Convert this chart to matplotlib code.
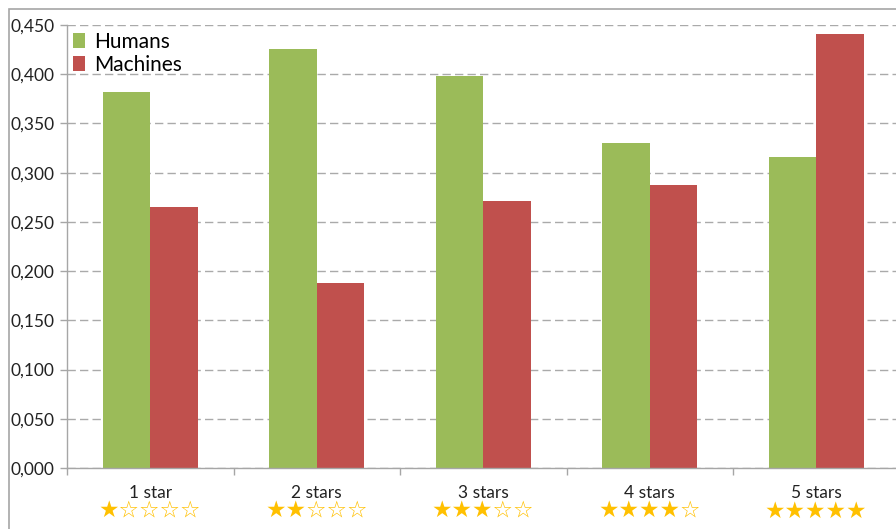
import matplotlib.pyplot as plt
import numpy as np
from matplotlib.patches import Rectangle

plt.rcParams['font.family'] = ['Lato', 'DejaVu Sans']

categories = ['1 star', '2 stars', '3 stars', '4 stars', '5 stars']
star_marks = ['★☆☆☆☆', '★★☆☆☆', '★★★☆☆', '★★★★☆', '★★★★★']
humans = [0.382, 0.426, 0.398, 0.330, 0.316]
machines = [0.265, 0.188, 0.271, 0.287, 0.441]
yticks = np.arange(0, 0.451, 0.05)
ytick_labels = ['0,000', '0,050', '0,100', '0,150', '0,200',
                '0,250', '0,300', '0,350', '0,400', '0,450']

W, H = 896, 529
fig = plt.figure(figsize=(W / 100, H / 100), dpi=100)

# chart area border (Excel style)
fig.patches.append(Rectangle((9 / W, -0.1), 1.2, (H - 9) / H + 0.1,
                             transform=fig.transFigure, fill=False,
                             edgecolor='#a6a6a6', linewidth=1.2))

left, right = 67 / W, 899.5 / W
bottom, top = 1 - 468 / H, 1 - 25 / H
ax = fig.add_axes([left, bottom, right - left, top - bottom])

x = np.arange(len(categories))
bw = 0.2857
ax.bar(x - bw / 2, humans, bw, color='#9bbb59', label='Humans')
ax.bar(x + bw / 2, machines, bw, color='#c0504d', label='Machines')

ax.set_xlim(-0.5, len(categories) - 0.5)
ax.set_ylim(0, 0.45)
ax.set_yticks(yticks)
ax.set_yticklabels(ytick_labels, fontsize=12.5, color='#222222')
ax.set_xticks(np.arange(len(categories) + 1) - 0.5)
ax.set_xticklabels([])
ax.tick_params(axis='both', direction='out', length=5, color='#a6a6a6', width=1)
ax.tick_params(axis='y', pad=4)

ax.yaxis.grid(True, linestyle=(0, (6, 3)), color='#aaaaaa', linewidth=1)
ax.set_axisbelow(True)
for s in ['top', 'right']:
    ax.spines[s].set_visible(False)
for s in ['left', 'bottom']:
    ax.spines[s].set_color('#a6a6a6')
    ax.spines[s].set_linewidth(1)

trans = ax.get_xaxis_transform()
for i, (c, st) in enumerate(zip(categories, star_marks)):
    ax.text(i, -0.057, c, transform=trans, ha='center', va='center',
            fontsize=12.5, color='#222222')
    ax.text(i, -0.098, st, transform=trans, ha='center', va='center',
            fontsize=16.5, color='#ffc000', family=['DejaVu Sans'])

ax.legend(loc='upper left', bbox_to_anchor=(-0.008, 1.013), frameon=False,
          fontsize=15, handlelength=0.6, handleheight=0.75, handletextpad=0.4,
          labelspacing=0.15, borderaxespad=0.2)

fig.savefig('out.png', dpi=100)
